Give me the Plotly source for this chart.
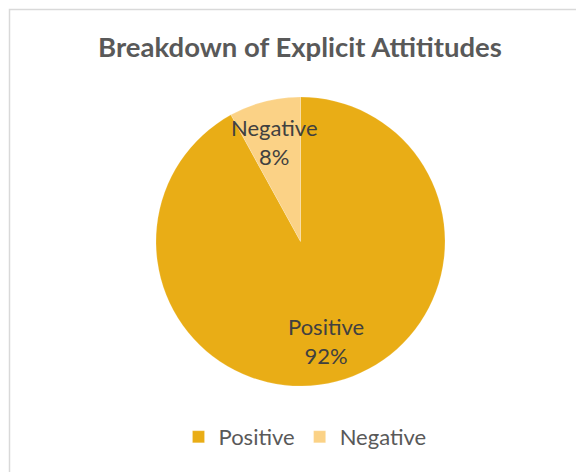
import math
import plotly.graph_objects as go

categories = ["Positive", "Negative"]
values = [92, 8]
colors = ["#E9AD16", "#FBD286"]
title_text = "Breakdown of Explicit Attititudes"

# the page body adds an 8px margin, so the figure is drawn 8px smaller
OFF = 8
W, H = 584 - OFF, 472 - OFF
# pie geometry (pixels, in figure coordinates)
cx, cy, R = 300.5 - OFF, 241.5 - OFF, 144.5
dom_x = [(cx - R) / W, (cx + R) / W]
dom_y = [1 - (cy + R) / H, 1 - (cy - R) / H]

FONT = "Lato, Carlito, sans-serif"

fig = go.Figure()
fig.add_trace(go.Pie(
    labels=categories,
    values=values,
    sort=False,
    direction="clockwise",
    rotation=0,
    marker=dict(colors=colors, line=dict(color="rgba(255,255,255,0.35)", width=0.5)),
    textinfo="none",
    hoverinfo="label+percent",
    domain=dict(x=dom_x, y=dom_y),
    showlegend=True,
))

# data labels placed along each slice's mid-angle, computed from the values
total = sum(values)
cum = 0
annotations = []
for lab, v in zip(categories, values):
    mid = (cum + v / 2) / total * 2 * math.pi
    cum += v
    r = 0.71 * R
    px = cx + r * math.sin(mid)
    py = cy - r * math.cos(mid)
    pct = round(v / total * 100)
    annotations.append(dict(
        x=px / W, y=1 - py / H, xref="paper", yref="paper",
        text=f"{lab}<br>{pct}%", showarrow=False,
        font=dict(family=FONT, size=22, color="#404040"),
        xanchor="center", yanchor="middle", align="center",
    ))

fig.update_layout(
    width=W, height=H,
    margin=dict(l=0, r=0, t=0, b=0),
    paper_bgcolor="white",
    plot_bgcolor="white",
    title=dict(
        text=f"<b>{title_text}</b>",
        x=(300 - OFF) / W, xanchor="center",
        y=1 - (47 - OFF) / H, yanchor="middle",
        font=dict(family=FONT, size=27.5, color="#595959"),
    ),
    legend=dict(
        orientation="h",
        x=(305 - OFF) / W, xanchor="center",
        y=1 - (437 - OFF) / H, yanchor="middle",
        font=dict(family=FONT, size=22, color="#595959"),
        itemwidth=30,
        bgcolor="rgba(0,0,0,0)",
    ),
    annotations=annotations,
    shapes=[dict(
        type="rect", xref="paper", yref="paper",
        x0=(9.5 - OFF) / W, x1=1.2, y0=-0.2, y1=1 - (9.5 - OFF) / H,
        line=dict(color="#D9D9D9", width=1.5),
        fillcolor="rgba(0,0,0,0)", layer="below",
    )],
)

fig.write_html("out.html")
